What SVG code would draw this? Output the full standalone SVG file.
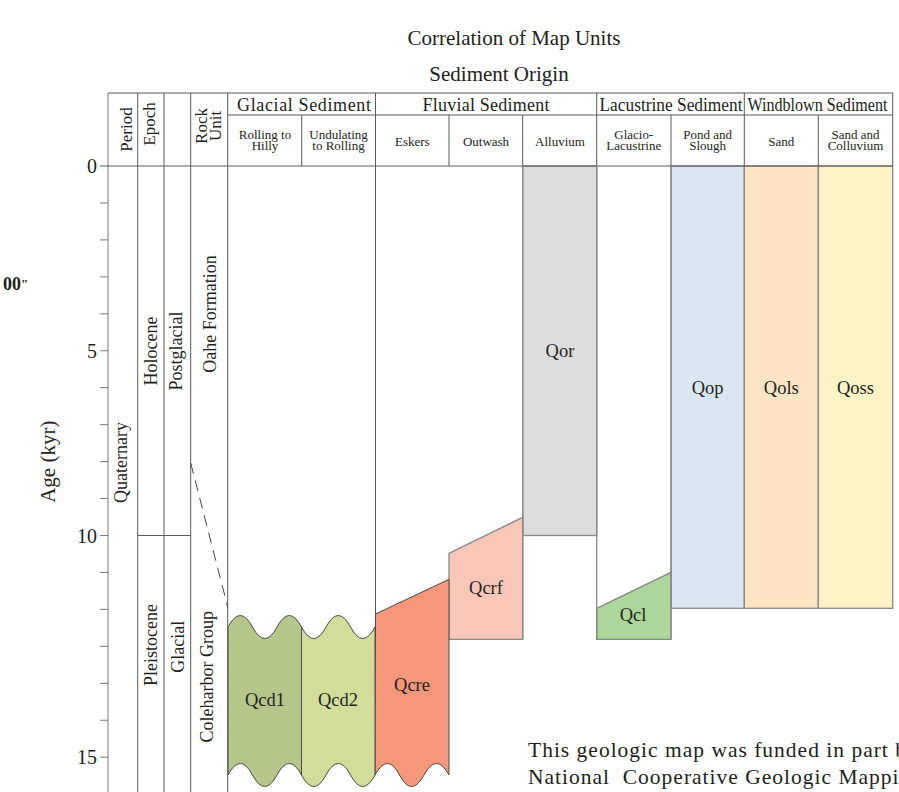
<svg xmlns="http://www.w3.org/2000/svg" width="899" height="792" viewBox="0 0 899 792">
<style>
text{font-family:"Liberation Serif","Times New Roman",serif;fill:#231f20}
.title{font-size:21px;text-anchor:middle}
.grp{font-size:18px;text-anchor:middle}
.sub{font-size:13px;text-anchor:middle}
.rot{font-size:18px;text-anchor:middle}
.hdr{font-size:17px;text-anchor:middle}
.num{font-size:20px;text-anchor:end}
.unit{font-size:18.5px;text-anchor:middle}
.ln{stroke:#5a5a5a;stroke-width:1;fill:none}
.ax{stroke:#7a7a7a;stroke-width:1;fill:none}
.box{stroke:#888;stroke-width:1.3}
.wave{stroke:#4a4a4a;stroke-width:1}
.note{font-size:21.5px;letter-spacing:1px}
</style>
<rect x="0" y="0" width="899" height="792" fill="#fff"/>

<text class="title" x="514" y="45">Correlation of Map Units</text>
<text class="title" x="499" y="81">Sediment Origin</text>
<text x="3" y="290" style="font-size:18px;font-weight:bold">00<tspan style="font-size:13px" dy="-2">"</tspan></text>

<g id="units">
<g id="Qor"><rect class="box" x="522.7" y="166" width="74" height="369.5" fill="#dcdddf"/><text class="unit" x="560" y="356.5">Qor</text></g>
<g id="Qop"><rect class="box" x="671" y="166" width="73.3" height="442.3" fill="#dae6f2"/><text class="unit" x="707.7" y="393.5">Qop</text></g>
<g id="Qols"><rect class="box" x="744.3" y="166" width="74" height="442.3" fill="#fde5c5"/><text class="unit" x="781.3" y="393.5">Qols</text></g>
<g id="Qoss"><rect class="box" x="818.3" y="166" width="74.4" height="442.3" fill="#fef3c6"/><text class="unit" x="855.5" y="393.5">Qoss</text></g>
<g id="Qcl"><polygon class="box" points="596.7,608.3 671,572.3 671,639.3 596.7,639.3" fill="#acd69a"/><text class="unit" x="633" y="620.5">Qcl</text></g>
<g id="Qcrf"><polygon class="box" points="449,553.3 522.7,517.3 522.7,639.3 449,639.3" fill="#f9c7b7"/><text class="unit" x="486" y="593.5">Qcrf</text></g>
<g id="Qcre"><path class="wave" d="M375.5,614 L449,579.3 L449,775 Q436.5,752 424,775 T399.5,775 T375,775 Z" fill="#f4977a"/><text class="unit" x="412" y="690.5">Qcre</text></g>
<g id="Qcd1"><path class="wave" d="M228,627 Q240.25,604 252.5,627 T277,627 T301.5,627 L301.5,775 Q289.25,752 277,775 T252.5,775 T228,775 Z" fill="#b5c68b"/><text class="unit" x="265" y="705.5">Qcd1</text></g>
<g id="Qcd2"><path class="wave" d="M301.5,627 Q313.75,650 326,627 T350.5,627 T375,627 L375,775 Q362.75,798 350.5,775 T326,775 T301.5,775 Z" fill="#d1dd99"/><text class="unit" x="338" y="705.5">Qcd2</text></g>
</g>

<g id="grid">
<path class="ax" d="M108,93V792 M100,202.95H108 M100,239.9H108 M100,276.85H108 M100,313.8H108 M100,350.75H108 M100,387.7H108 M100,424.65H108 M100,461.6H108 M100,498.55H108 M100,535.5H108 M100,572.45H108 M100,609.4H108 M100,646.35H108 M100,683.3H108 M100,720.25H108 M100,757.2H108"/>
<path class="ln" d="M108,93H893 M228,115H893 M100,166H893 M137.7,535.5H190.7"/>
<path class="ln" d="M137.7,93V792 M164,93V792 M190.7,93V792 M227.7,93V792"/>
<path class="ln" d="M301.7,115V166 M375.5,93V614 M449,115V166 M522.7,115V166 M596.7,93V166 M671,115V166 M744.3,93V166 M818.3,115V166 M892.7,93V166"/>
<path class="box" fill="none" d="M522.7,166V639.3 M596.7,166V639.3 M671,166V639.3"/>
</g>

<g id="connectors">
<path d="M190.7,463 L227.7,607" stroke="#444" stroke-width="1" stroke-dasharray="11 7" fill="none"/>
</g>

<g id="header">
<text class="hdr" transform="translate(132,129.5) rotate(-90)">Period</text>
<text class="hdr" transform="translate(155,124) rotate(-90)">Epoch</text>
<text class="hdr" transform="translate(207,126) rotate(-90)">Rock</text>
<text class="hdr" transform="translate(221,126) rotate(-90)">Unit</text>
<text class="grp" x="304" y="110.5" textLength="134">Glacial Sediment</text>
<text class="grp" x="486" y="110.5" textLength="127">Fluvial Sediment</text>
<text class="grp" x="671" y="110.5" textLength="143" lengthAdjust="spacingAndGlyphs">Lacustrine Sediment</text>
<text class="grp" x="817.5" y="110.5" textLength="140" lengthAdjust="spacingAndGlyphs">Windblown Sediment</text>
<text class="sub" x="265" y="138.5">Rolling to</text>
<text class="sub" x="265" y="150">Hilly</text>
<text class="sub" x="338.5" y="138.5">Undulating</text>
<text class="sub" x="338.5" y="150">to Rolling</text>
<text class="sub" x="412.3" y="145.5">Eskers</text>
<text class="sub" x="486" y="145.5">Outwash</text>
<text class="sub" x="560" y="145.5">Alluvium</text>
<text class="sub" x="633.8" y="138.5">Glacio-</text>
<text class="sub" x="633.8" y="150">Lacustrine</text>
<text class="sub" x="707.7" y="138.5">Pond and</text>
<text class="sub" x="707.7" y="150">Slough</text>
<text class="sub" x="781.3" y="145.5">Sand</text>
<text class="sub" x="855.5" y="138.5">Sand and</text>
<text class="sub" x="855.5" y="150">Colluvium</text>
</g>

<g id="timescale">
<text class="num" x="97" y="173">0</text>
<text class="num" x="97" y="357.5">5</text>
<text class="num" x="97" y="542.5">10</text>
<text class="num" x="97" y="764">15</text>
<text transform="translate(55,461.7) rotate(-90)" style="font-size:21px;text-anchor:middle">Age (kyr)</text>
<text class="rot" transform="translate(127,462.5) rotate(-90)">Quaternary</text>
<text class="rot" transform="translate(157,351) rotate(-90)">Holocene</text>
<text class="rot" transform="translate(181.5,351) rotate(-90)">Postglacial</text>
<text class="rot" transform="translate(215.5,314) rotate(-90)">Oahe Formation</text>
<text class="rot" transform="translate(156.5,645) rotate(-90)">Pleistocene</text>
<text class="rot" transform="translate(184,646.7) rotate(-90)">Glacial</text>
<text class="rot" transform="translate(213,676.7) rotate(-90)">Coleharbor Group</text>
</g>

<text class="note" x="528" y="757">This geologic map was funded in part b</text>
<text class="note" x="528" y="784" xml:space="preserve">National  Cooperative Geologic Mappi</text>
</svg>
